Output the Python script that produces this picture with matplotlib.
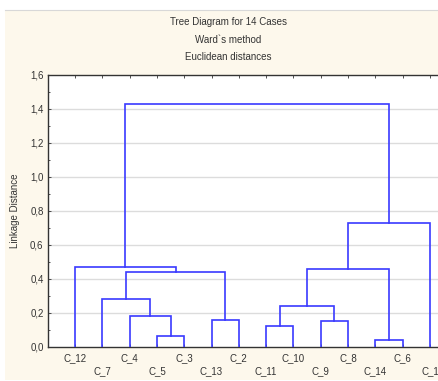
import matplotlib
matplotlib.use("Agg")
import matplotlib.pyplot as plt
from matplotlib.patches import Rectangle
from matplotlib.lines import Line2D

plt.rcParams['font.family'] = ['Liberation Sans', 'DejaVu Sans']

# Leaf order (left to right)
leaves = ["C_12", "C_7", "C_4", "C_5", "C_3", "C_13", "C_2",
          "C_11", "C_10", "C_9", "C_8", "C_14", "C_6", "C_1"]

# Merges: (left member, right member, linkage distance)
merge_left = ["C_14", "C_5", "C_11", "C_9", "C_13", "C_4", "m3", "C_7", "m8", "m7", "C_12", "m10", "m11"]
merge_right = ["C_6", "C_3", "C_10", "C_8", "C_2", "m2", "m4", "m6", "m5", "m1", "m9", "C_1", "m12"]
merge_height = [0.037, 0.063, 0.12, 0.15, 0.155, 0.18, 0.24, 0.28, 0.44, 0.455, 0.47, 0.728, 1.43]

yticks = [0.0, 0.2, 0.4, 0.6, 0.8, 1.0, 1.2, 1.4, 1.6]
ytick_labels = ["0,0", "0,2", "0,4", "0,6", "0,8", "1,0", "1,2", "1,4", "1,6"]

W, H = 438, 381
fig = plt.figure(figsize=(W / 100, H / 100), dpi=100)
fig.patch.set_facecolor("white")
cream = "#fdf8ec"
fig.patches.append(Rectangle((5 / W, 1 / H), 1, 1 - 10 / H - 1 / H, transform=fig.transFigure,
                             facecolor=cream, edgecolor="none", zorder=-10))
fig.lines.append(Line2D([5 / W, 1], [1 - 9.5 / H, 1 - 9.5 / H], transform=fig.transFigure,
                        color="#d8d8d8", lw=0.8))

ax_left, ax_bottom = 47.7 / W, (H - 346.7) / H
ax_w, ax_h = 409.5 / W, 272 / H
ax = fig.add_axes([ax_left, ax_bottom, ax_w, ax_h])
ax.set_facecolor("white")

n = len(leaves)
ax.set_xlim(0, n + 1)
ax.set_ylim(0, 1.6)

pos = {name: (i + 1, 0.0) for i, name in enumerate(leaves)}
col = "#3a3aff"
for k, (a, b, h) in enumerate(zip(merge_left, merge_right, merge_height)):
    xa, ya = pos[a]
    xb, yb = pos[b]
    ax.plot([xa, xa, xb, xb], [ya, h, h, yb], color=col, lw=1.2, solid_joinstyle="miter", zorder=3)
    pos["m%d" % (k + 1)] = ((xa + xb) / 2, h)

for y in yticks[1:-1]:
    ax.axhline(y, color="#dcdcdc", lw=1.0, zorder=1)

ax.set_yticks(yticks)
ax.set_yticklabels(ytick_labels, fontsize=7, color="#333333")
ax.set_yticks([0.1, 0.3, 0.5, 0.7, 0.9, 1.1, 1.3, 1.5], minor=True)
ax.tick_params(axis="y", which="both", direction="in", length=2.5, width=0.6, pad=3, colors="#333333")
ax.tick_params(axis="y", which="minor", length=1.5)

xs = list(range(1, n + 1))
ax.set_xticks(xs)
ax.set_xticklabels([])
ax.tick_params(axis="x", which="both", direction="in", length=2.5, width=0.6, top=True, bottom=True, colors="#333333")

for i, name in enumerate(leaves):
    off = 11 if i % 2 == 0 else 24
    ax.annotate(name, xy=(i + 1, 0), xycoords="data", xytext=(0, -off * 0.72),
                textcoords="offset points", ha="center", va="center", fontsize=7, color="#333333",
                annotation_clip=False)

for s in ["left", "top", "bottom"]:
    ax.spines[s].set_color("#333333")
    ax.spines[s].set_linewidth(1.0)
ax.spines["right"].set_visible(False)

ax.set_ylabel("Linkage Distance", fontsize=7, color="#333333")
ax.yaxis.set_label_coords(-0.068, 0.5)

tx = 228 / W
fig.text(tx, 1 - 22.3 / H, "Tree Diagram for 14 Cases", ha="center", va="center", fontsize=7, color="#333333")
fig.text(tx, 1 - 40 / H, "Ward`s method", ha="center", va="center", fontsize=7, color="#333333")
fig.text(tx, 1 - 57.5 / H, "Euclidean distances", ha="center", va="center", fontsize=7, color="#333333")

fig.savefig("out.png", dpi=100)
